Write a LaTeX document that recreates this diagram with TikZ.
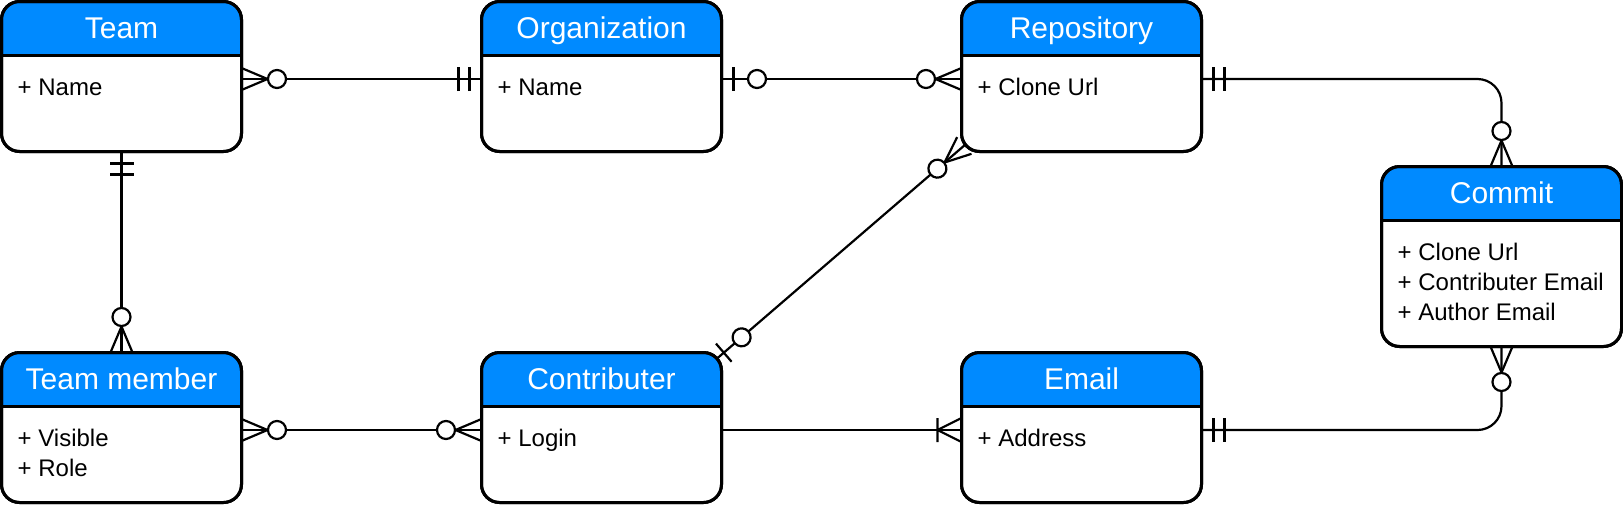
\documentclass[tikz,border=0pt]{standalone}
\usepackage{fontspec}
\setmainfont{Liberation Sans}
\usetikzlibrary{calc}
\definecolor{hdr}{HTML}{008AFF}
\pgfdeclarelayer{bg}
\pgfsetlayers{bg,main}
\begin{document}
\begin{tikzpicture}[x=1pt,y=-1pt,
  entity/.style={draw, line width=3pt, fill=white, rounded corners=18pt,
    minimum width=240pt, minimum height=150pt, inner sep=0pt, outer sep=0pt,
    path picture={
      \fill[hdr, sharp corners] (path picture bounding box.north west) rectangle ([yshift=-53.5pt]path picture bounding box.north east);
      \draw[line width=3pt, sharp corners] ([yshift=-53.5pt]path picture bounding box.north west) -- ([yshift=-53.5pt]path picture bounding box.north east);}},
  outline/.style={draw, line width=3pt, rounded corners=18pt},
  title/.style={text=white, font=\fontsize{30}{36}\selectfont, anchor=base, inner sep=0pt},
  attr/.style={text=black, font=\fontsize{24}{30}\selectfont, anchor=base west, inner sep=0pt},
  conn/.style={line width=2.2pt, line join=round},
  mk/.style={line width=2.2pt, line join=miter},
  mandone/.pic={\draw[mk] (12,-12)--(12,12) (23,-12)--(23,12);},
  zeroone/.pic={\draw[mk] (12,-12)--(12,12); \draw[mk,fill=white] (35.5,0) circle[radius=9pt];},
  zeromany/.pic={\draw[mk] (0,-11)--(26,0)--(0,11); \draw[mk,fill=white] (35.5,0) circle[radius=9pt];},
  onemany/.pic={\draw[mk] (0,-12)--(24,0)--(0,12) (24,-12)--(24,12);}
]
\useasboundingbox (0,0) rectangle (1623,507);

% entities
\node[entity] (team) at (121.5,76.5) {};
\node[entity] (org) at (601.5,76.5) {};
\node[entity] (repo) at (1081.5,76.5) {};
\node[entity, minimum height=180pt] (commit) at (1501.5,256.5) {};
\node[entity] (tm) at (121.5,427.5) {};
\node[entity] (contrib) at (601.5,427.5) {};
\node[entity] (email) at (1081.5,427.5) {};

\foreach \n in {team,org,repo,commit,tm,contrib,email}
  \draw[outline] (\n.south west) rectangle (\n.north east);

% titles
\node[title] (team-t) at ($(team.north)+(0,37)$) {Team};
\node[title] (org-t) at ($(org.north)+(0,37)$) {Organization};
\node[title] (repo-t) at ($(repo.north)+(0,37)$) {Repository};
\node[title] (commit-t) at ($(commit.north)+(0,37)$) {Commit};
\node[title] (tm-t) at ($(tm.north)+(0,37)$) {Team member};
\node[title] (contrib-t) at ($(contrib.north)+(0,37)$) {Contributer};
\node[title] (email-t) at ($(email.north)+(0,37)$) {Email};

% attributes
\node[attr] (team-a1) at ($(team.north west)+(16,94)$) {+ Name};
\node[attr] (org-a1) at ($(org.north west)+(16,94)$) {+ Name};
\node[attr] (repo-a1) at ($(repo.north west)+(16,94)$) {+ Clone Url};
\node[attr] (commit-a1) at ($(commit.north west)+(16,94)$) {+ Clone Url};
\node[attr] (commit-a2) at ($(commit.north west)+(16,124)$) {+ Contributer Email};
\node[attr] (commit-a3) at ($(commit.north west)+(16,154)$) {+ Author Email};
\node[attr] (tm-a1) at ($(tm.north west)+(16,94)$) {+ Visible};
\node[attr] (tm-a2) at ($(tm.north west)+(16,124)$) {+ Role};
\node[attr] (contrib-a1) at ($(contrib.north west)+(16,94)$) {+ Login};
\node[attr] (email-a1) at ($(email.north west)+(16,94)$) {+ Address};

% connector end points
\coordinate (teamE) at ($(team.east)+(0,2.5)$);
\coordinate (orgW) at ($(org.west)+(0,2.5)$);
\coordinate (orgE) at ($(org.east)+(0,2.5)$);
\coordinate (repoW) at ($(repo.west)+(0,2.5)$);
\coordinate (repoE) at ($(repo.east)+(0,2.5)$);
\coordinate (tmE) at ($(tm.east)+(0,2.5)$);
\coordinate (contribW) at ($(contrib.west)+(0,2.5)$);
\coordinate (contribE) at ($(contrib.east)+(0,2.5)$);
\coordinate (emailW) at ($(email.west)+(0,2.5)$);
\coordinate (emailE) at ($(email.east)+(0,2.5)$);
\coordinate (diagA) at ($(contrib.north east)+(-6.8,8)$);
\coordinate (diagB) at ($(repo.south west)+(2.8,-6)$);

\begin{pgfonlayer}{bg}
\draw[conn] (teamE) -- (orgW);
\draw[conn] (orgE) -- (repoW);
\draw[conn, rounded corners=24pt] (repoE) -| (commit.north);
\draw[conn, rounded corners=24pt] (emailE) -| (commit.south);
\draw[conn] (team.south) -- (tm.north);
\draw[conn] (tmE) -- (contribW);
\draw[conn] (contribE) -- (emailW);
\draw[conn] (diagA) -- (diagB);
\end{pgfonlayer}

% markers
\pic at (teamE) {zeromany};
\pic[rotate=180] at (orgW) {mandone};
\pic at (orgE) {zeroone};
\pic[rotate=180] at (repoW) {zeromany};
\pic at (repoE) {mandone};
\pic[rotate=90] at (commit.north) {zeromany};
\pic at (emailE) {mandone};
\pic[rotate=-90] at (commit.south) {zeromany};
\pic[rotate=-90] at (team.south) {mandone};
\pic[rotate=90] at (tm.north) {zeromany};
\pic at (tmE) {zeromany};
\pic[rotate=180] at (contribW) {zeromany};
\pic[rotate=180] at (emailW) {onemany};
\pic[rotate=40.74] at (diagA) {zeroone};
\pic[rotate=220.74] at (diagB) {zeromany};
\end{tikzpicture}
\end{document}
